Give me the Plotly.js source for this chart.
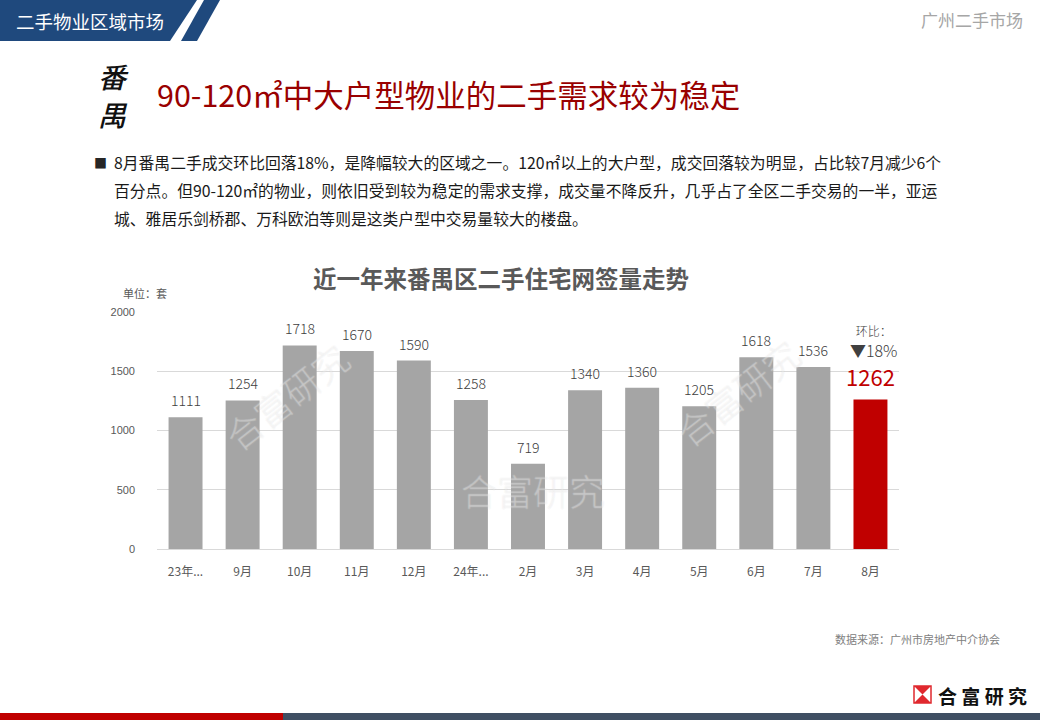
<!DOCTYPE html>
<html>
<head>
<meta charset="utf-8">
<script src="https://cdn.plot.ly/plotly-3.0.1.min.js"></script>
<style>
  body { margin: 0; background: #fff; }
  #chart { width: 1040px; height: 720px; }
</style>
</head>
<body>
<div id="chart"></div>
<script>
// Chart data
const months = ['23年8月', '9月', '10月', '11月', '12月', '24年1月', '2月', '3月', '4月', '5月', '6月', '7月', '8月'];
const tickText = ['23年...', '9月', '10月', '11月', '12月', '24年...', '2月', '3月', '4月', '5月', '6月', '7月', '8月'];
const deals = [1111, 1254, 1718, 1670, 1590, 1258, 719, 1340, 1360, 1205, 1618, 1536, 1262];
const momLabel = '环比：';
const momChange = '▼18%';

// Page texts
const headerText = '二手物业区域市场';
const cornerText = '广州二手市场';
const districtChars = ['番', '禺'];
const headline = '90-120㎡中大户型物业的二手需求较为稳定';
const bodyLines = [
    '8月番禺二手成交环比回落18%，是降幅较大的区域之一。120㎡以上的大户型，成交回落较为明显，占比较7月减少6个',
    '百分点。但90-120㎡的物业，则依旧受到较为稳定的需求支撑，成交量不降反升，几乎占了全区二手交易的一半，亚运',
    '城、雅居乐剑桥郡、万科欧泊等则是这类户型中交易量较大的楼盘。'
];
const chartTitle = '近一年来番禺区二手住宅网签量走势';
const unitText = '单位：套';
const sourceText = '数据来源：广州市房地产中介协会';
const brandText = '合富研究';

// Plot area in page pixels
const L = 157, R = 899, T = 312, B = 549;
const px = x => (x - L) / (R - L);
const py = y => (B - y) / (B - T);

const FONT = '"Noto Sans CJK SC", "Noto Sans", sans-serif';
const GREY = '#a5a5a5';
const RED = '#c00000';

const last = deals.length - 1;

const trace = {
    type: 'bar',
    x: months,
    y: deals,
    marker: { color: deals.map((v, i) => i === last ? RED : GREY) },
    hoverinfo: 'skip'
};

function pageText(text, x, y, size, color, opts = {}) {
    return Object.assign({
        text: text, xref: 'paper', yref: 'paper',
        x: px(x), y: py(y),
        xanchor: 'left', yanchor: 'middle',
        showarrow: false,
        font: { family: FONT, size: size, color: color }
    }, opts);
}

const annotations = [];

// watermarks (drawn first so labels sit on top)
const wmFont = {
    family: FONT, size: 36, color: 'rgba(255,255,255,0.22)', weight: 300,
    shadow: '1px 0 0 rgba(215,215,215,0.55), -1px 0 0 rgba(215,215,215,0.55), 0 1px 0 rgba(215,215,215,0.55), 0 -1px 0 rgba(215,215,215,0.55)'
};
annotations.push(pageText(brandText, 533, 490, 36, '', { xanchor: 'center', font: wmFont }));
annotations.push(pageText(brandText, 286, 396, 36, '', { xanchor: 'center', textangle: -38, font: wmFont }));
annotations.push(pageText(brandText, 737, 392, 36, '', { xanchor: 'center', textangle: -38, font: wmFont }));

// value labels above bars
deals.forEach((v, i) => {
    const isLast = i === last;
    annotations.push({
        x: months[i], y: v, xref: 'x', yref: 'y',
        text: String(v),
        showarrow: false,
        yanchor: 'bottom',
        yshift: 5,
        font: { family: FONT, size: isLast ? 22 : 14, color: isLast ? RED : '#404040', weight: isLast ? 400 : 300 }
    });
});

annotations.push({
    x: months[last], y: deals[last], xref: 'x', yref: 'y',
    text: '<span style="font-size:12px">' + momLabel + '</span><br>' + momChange,
    showarrow: false, yanchor: 'middle', yshift: 57, xshift: 3,
    font: { family: FONT, size: 16, color: '#404040', weight: 300 }
});

// page texts
annotations.push(pageText(headerText, 14, 21, 18.5, '#ffffff'));
annotations.push(pageText(cornerText, 1025, 19, 17, '#a6a6a6', { xanchor: 'right' }));
districtChars.forEach((ch, i) => {
    annotations.push(pageText(ch, 113, 76 + i * 38, 28, '#111111', {
        xanchor: 'center', borderpad: 0,
        font: { family: FONT, size: 28, color: '#111', style: 'italic', weight: 500 }
    }));
});
annotations.push(pageText(headline, 155, 94, 30.5, '#990000'));
annotations.push(pageText('■', 92, 162, 13, '#262626'));
bodyLines.forEach((line, i) => {
    annotations.push(pageText(line, 112, 162 + i * 28, 15.8, '#1a1a1a'));
});
annotations.push(pageText(chartTitle, 501, 278, 23.5, '#595959', { xanchor: 'center', font: { family: FONT, size: 23.5, color: '#595959', weight: 'bold' } }));
annotations.push(pageText(unitText, 121, 293, 11, '#595959'));
annotations.push(pageText(sourceText, 1002, 639, 11, '#808080', { xanchor: 'right' }));
annotations.push(pageText(brandText.split('').join(' '), 936, 695, 19, '#111111', { font: { family: FONT, size: 19, color: '#111', weight: 'bold' } }));

// shapes for page furniture
function poly(points, color) {
    const d = points.map((p, i) => (i ? 'L' : 'M') + px(p[0]) + ',' + py(p[1])).join(' ') + ' Z';
    return { type: 'path', xref: 'paper', yref: 'paper', path: d, fillcolor: color, line: { width: 0 }, layer: 'below' };
}
function rect(x0, y0, x1, y1, color, lineColor) {
    return {
        type: 'rect', xref: 'paper', yref: 'paper',
        x0: px(x0), x1: px(x1), y0: py(y1), y1: py(y0),
        fillcolor: color, line: { width: lineColor ? 1.5 : 0, color: lineColor || color }, layer: 'below'
    };
}

const shapes = [
    poly([[0, 0], [197, 0], [170, 41], [0, 41]], '#1f497d'),
    poly([[204, 0], [220, 0], [197, 41], [181, 41]], '#1f497d'),
    rect(0, 713, 283, 720, RED),
    rect(283, 713, 1040, 720, '#3f4f63'),
    rect(914, 686, 931, 703, '#ffffff', '#e0282e'),
    poly([[914, 686], [931, 686], [922.5, 694.5]], '#e0282e'),
    poly([[914, 703], [931, 703], [922.5, 694.5]], '#e0282e')
];

const layout = {
    width: 1040,
    height: 720,
    margin: { l: L, r: 1040 - R, t: T, b: 720 - B, pad: 0 },
    paper_bgcolor: '#ffffff',
    plot_bgcolor: '#ffffff',
    showlegend: false,
    bargap: 0.405,
    font: { family: FONT, color: '#595959' },
    xaxis: {
        type: 'category',
        tickvals: months,
        ticktext: tickText,
        tickfont: { family: FONT, size: 12, color: '#595959' },
        ticks: '',
        ticklabelstandoff: 14,
        showgrid: false,
        showline: false,
        zeroline: false,
        fixedrange: true
    },
    yaxis: {
        range: [0, 2000],
        dtick: 500,
        tickfont: { family: 'Liberation Sans, Arial, sans-serif', size: 11, color: '#595959' },
        ticks: '',
        ticklabelstandoff: 21,
        gridcolor: '#d9d9d9',
        gridwidth: 1,
        zeroline: true,
        zerolinecolor: '#d9d9d9',
        zerolinewidth: 1,
        showline: false,
        fixedrange: true
    },
    annotations: annotations,
    shapes: shapes
};

Plotly.newPlot('chart', [trace], layout, { staticPlot: true, displayModeBar: false });
</script>
</body>
</html>
